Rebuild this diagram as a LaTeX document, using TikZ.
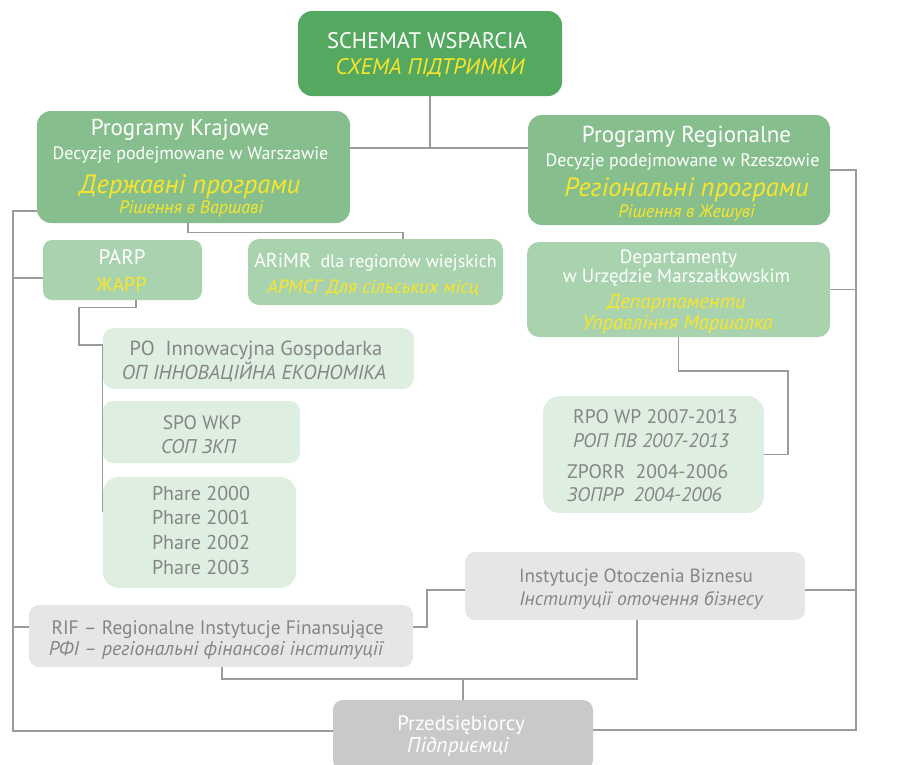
\documentclass[tikz,border=0pt]{standalone}
\usepackage{fontspec}
\setmainfont{PT Sans}
\definecolor{gTop}{HTML}{55A860}
\definecolor{gMid}{HTML}{86BF8D}
\definecolor{gLight}{HTML}{A9D3AE}
\definecolor{gPale}{HTML}{DEEEE1}
\definecolor{grBox}{HTML}{E6E6E6}
\definecolor{grDark}{HTML}{C9C9C9}
\definecolor{ylw}{HTML}{F9E52A}
\definecolor{txtg}{HTML}{858585}
\definecolor{lineg}{HTML}{9B9B9B}
\newcommand\fsz[1]{\fontsize{#1}{#1}\selectfont}
\begin{document}
\begin{tikzpicture}[x=1pt,y=-1pt,
  box/.style={draw=none, inner sep=0pt, rounded corners=12pt},
  wt/.style={text=white, anchor=base, inner sep=0pt},
  yt/.style={text=ylw, anchor=base, inner sep=0pt},
  gt/.style={text=txtg, anchor=base, inner sep=0pt},
  gtw/.style={text=txtg, anchor=base west, inner sep=0pt},
  conn/.style={draw=lineg, line width=1.1pt}]
\useasboundingbox (0,0) rectangle (907,764);
% boxes
\node[box, fill=gTop, minimum width=264pt, minimum height=85pt, rounded corners=14pt] (top) at (430,53.5) {};
\node[box, fill=gMid, minimum width=313pt, minimum height=112pt, rounded corners=14pt] (kraj) at (193.5,167) {};
\node[box, fill=gMid, minimum width=302pt, minimum height=110pt, rounded corners=14pt] (reg) at (679,170) {};
\node[box, fill=gLight, minimum width=159pt, minimum height=60pt, rounded corners=9pt] (parp) at (122.5,270) {};
\node[box, fill=gLight, minimum width=255pt, minimum height=66pt, rounded corners=11pt] (arimr) at (375.5,272) {};
\node[box, fill=gLight, minimum width=303pt, minimum height=95pt, rounded corners=12pt] (dep) at (678.5,289.5) {};
\node[box, fill=gPale, minimum width=311pt, minimum height=61pt, rounded corners=11pt] (po) at (258.5,358.5) {};
\node[box, fill=gPale, minimum width=197pt, minimum height=62pt, rounded corners=10pt] (spo) at (201.5,432) {};
\node[box, fill=gPale, minimum width=193pt, minimum height=111pt, rounded corners=16pt] (phare) at (199.5,532.5) {};
\node[box, fill=gPale, minimum width=221pt, minimum height=117pt, rounded corners=17pt] (rpo) at (653.5,454.5) {};
\node[box, fill=grBox, minimum width=340pt, minimum height=68pt, rounded corners=10pt] (iob) at (635,586) {};
\node[box, fill=grBox, minimum width=384pt, minimum height=62pt, rounded corners=10pt] (rif) at (221,636) {};
\node[box, fill=grDark, minimum width=260pt, minimum height=70pt, rounded corners=10pt] (prz) at (463,735) {};
% texts
\node[wt, font=\fsz{22.5}] (top1) at (427,48) {SCHEMAT WSPARCIA};
\node[yt, font=\fsz{22.5}\itshape] (top2) at (430,74) {СХЕМА ПІДТРИМКИ};
\node[wt, font=\fsz{23}] (kraj1) at (180,135) {Programy Krajowe};
\node[wt, font=\fsz{18}] (kraj2) at (190.5,159) {Decyzje podejmowane w Warszawie};
\node[yt, font=\fsz{26.5}\itshape] (kraj3) at (190,193) {Державні програми};
\node[yt, font=\fsz{18}\itshape] (kraj4) at (191,213) {Рішення в Варшаві};
\node[wt, font=\fsz{23}] (reg1) at (686.5,142) {Programy Regionalne};
\node[wt, font=\fsz{18}] (reg2) at (682.5,166) {Decyzje podejmowane w Rzeszowie};
\node[yt, font=\fsz{26.5}\itshape] (reg3) at (686.5,196) {Регіональні програми};
\node[yt, font=\fsz{18}\itshape] (reg4) at (686.5,217) {Рішення в Жешуві};
\node[wt, font=\fsz{21}] (parp1) at (122,264) {PARP};
\node[yt, font=\fsz{20}] (parp2) at (121.5,291) {ЖАРР};
\node[wt, font=\fsz{18}] (arimr1) at (375.5,267) {{\fsz{20}ARiMR}\ \ dla regionów wiejskich};
\node[yt, font=\fsz{19.3}\itshape] (arimr2) at (373,293) {АРМСГ Для сільських місц};
\node[wt, font=\fsz{19.3}] (dep1) at (678.5,263) {Departamenty};
\node[wt, font=\fsz{19}] (dep2) at (676.5,282) {w Urzędzie Marszałkowskim};
\node[yt, font=\fsz{20.5}\itshape] (dep3) at (676.5,308) {Департаменти};
\node[yt, font=\fsz{20.3}\itshape] (dep4) at (677.5,329) {Управління Маршалка};
\node[gt, font=\fsz{20.4}] (po1) at (256,355) {PO\ \ Innowacyjna Gospodarka};
\node[gt, font=\fsz{20.2}\itshape] (po2) at (254,379) {ОП ІННОВАЦІЙНА ЕКОНОМІКА};
\node[gt, font=\fsz{19.5}] (spo1) at (202,429) {SPO WKP};
\node[gt, font=\fsz{19.8}\itshape] (spo2) at (198.5,453) {СОП ЗКП};
\node[gt, font=\fsz{20}] (ph1) at (201,500) {Phare 2000};
\node[gt, font=\fsz{20}] (ph2) at (201,524.5) {Phare 2001};
\node[gt, font=\fsz{20}] (ph3) at (201,549) {Phare 2002};
\node[gt, font=\fsz{20}] (ph4) at (201,574) {Phare 2003};
\node[gtw, font=\fsz{19.6}] (rpo1) at (573,423) {RPO WP 2007-2013};
\node[gtw, font=\fsz{19.6}\itshape] (rpo2) at (573,447) {РОП ПВ 2007-2013};
\node[gtw, font=\fsz{19.6}] (rpo3) at (567,478) {ZPORR\ \ 2004-2006};
\node[gtw, font=\fsz{19.6}\itshape] (rpo4) at (567,501) {ЗОПРР\ \ 2004-2006};
\node[gt, font=\fsz{19.1}] (iob1) at (636,582) {Instytucje Otoczenia Biznesu};
\node[gt, font=\fsz{19.5}\itshape] (iob2) at (641,605) {Інституції оточення бізнесу};
\node[gt, font=\fsz{19.4}] (rif1) at (217.5,634) {RIF – Regionalne Instytucje Finansujące};
\node[gt, font=\fsz{19.8}\itshape] (rif2) at (216,655) {РФІ – регіональні фінансові інституції};
\node[wt, font=\fsz{20.8}] (prz1) at (461,730) {Przedsiębiorcy};
\node[wt, font=\fsz{21.3}\itshape] (prz2) at (458,752) {Підприємці};
% junction coordinates
\coordinate (hub) at (430,148);
\coordinate (lb) at (13,731);
\coordinate (rb) at (856,730);
\coordinate (pj) at (79,345);
\coordinate (dj) at (788,371);
\coordinate (rj) at (427,627);
\coordinate (bj) at (463,679);
% connectors
\draw[conn] (top.south) -- (hub);
\draw[conn] ([yshift=19pt]kraj.east) -- ([yshift=22pt]reg.west);
\draw[conn] ([yshift=-44pt]kraj.west) -| (lb) -- ([yshift=4pt]prz.west);
\draw[conn] ([yshift=-8pt]parp.west) -- ++(-30,0);
\draw[conn] ([yshift=9pt]rif.west) -- ++(-16,0);
\draw[conn] ([xshift=-5.5pt]kraj.south) -- ++(0,9) -| ([xshift=27.5pt]arimr.north);
\draw[conn] ([xshift=13.5pt]parp.south) -- ++(0,7) -| (pj) -- ([yshift=13.5pt]po.west);
\draw[conn] ([yshift=13.5pt]po.west) -- ([yshift=20.5pt]phare.west);
\draw[conn] (reg.east) -| (rb) -- ([yshift=5pt]prz.east);
\draw[conn] (dep.east) -- ++(26,0);
\draw[conn] ([yshift=-4pt]iob.east) -- ++(51,0);
\draw[conn] (dep.south) |- (dj) |- (rpo.east);
\draw[conn] ([yshift=-4pt]iob.west) -| (rj) -- ([yshift=9pt]rif.east);
\draw[conn] ([xshift=1pt]rif.south) |- (bj) -| ([xshift=2pt]iob.south);
\draw[conn] (bj) -- (prz.north);
\end{tikzpicture}
\end{document}
